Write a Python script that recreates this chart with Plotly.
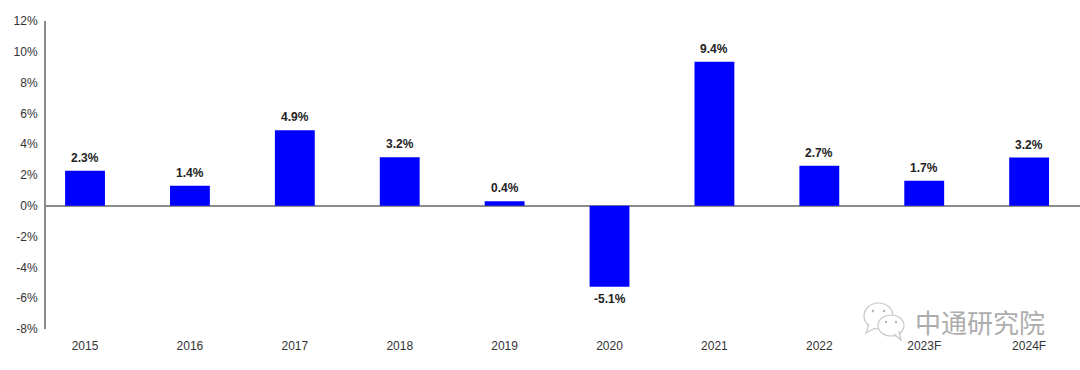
import plotly.graph_objects as go

years = ["2015", "2016", "2017", "2018", "2019", "2020", "2021", "2022", "2023F", "2024F"]
bar_values = [2.27, 1.3, 4.9, 3.15, 0.3, -5.25, 9.35, 2.6, 1.63, 3.13]
bar_labels = ["2.3%", "1.4%", "4.9%", "3.2%", "0.4%", "-5.1%", "9.4%", "2.7%", "1.7%", "3.2%"]
y_ticks = [-8, -6, -4, -2, 0, 2, 4, 6, 8, 10, 12]
y_tick_labels = [f"{v}%" for v in y_ticks]
watermark = "中通研究院"

FONT = "Liberation Sans, Arial, sans-serif"
GREY = "#8c8c8c"

fig = go.Figure(go.Bar(
    x=years, y=bar_values, width=0.38,
    marker=dict(color="#0000FF", line=dict(width=0)),
    cliponaxis=False, hoverinfo="skip",
))

for i, (val, lab) in enumerate(zip(bar_values, bar_labels)):
    fig.add_annotation(
        x=i, y=val, text=lab, showarrow=False,
        yanchor="middle", yshift=13 if val >= 0 else -12,
        font=dict(family=FONT, size=12, color="#222222", weight="bold"),
    )

fig.update_layout(
    width=1080, height=370, autosize=False,
    margin=dict(l=46, r=0, t=21, b=41),
    paper_bgcolor="white", plot_bgcolor="white", showlegend=False,
    xaxis=dict(
        type="category", categoryorder="array", categoryarray=years,
        range=[-0.372, 9.485], showgrid=False, zeroline=False, showline=False,
        ticks="", ticklabelstandoff=8,
        tickfont=dict(family=FONT, size=12, color="#333333"),
    ),
    yaxis=dict(
        range=[-8, 12], tickvals=y_ticks, ticktext=y_tick_labels,
        showgrid=False, showline=True, linecolor=GREY, linewidth=2,
        zeroline=True, zerolinecolor=GREY, zerolinewidth=2,
        ticks="", ticklabelstandoff=4,
        tickfont=dict(family=FONT, size=12, color="#333333"),
    ),
)

# Watermark (decorative, in paper space)
def px(x): return (x - 46) / 1034
def py(y): return (370 - y - 41) / 308

fig.add_annotation(
    text=watermark, xref="paper", yref="paper", xanchor="left", yanchor="middle",
    x=px(913), y=py(321), showarrow=False,
    font=dict(family="Noto Sans CJK SC", size=26, color="#adadad"),
)

ICON = "#c8c8c8"
def path(points):
    return "M " + " L ".join(f"{px(x)} {py(y)}" for x, y in points)

# bubbles with tails
for (x0, y0, x1, y1, tail) in [
    (864, 303, 893, 329, [(869, 324), (866, 333), (875, 328)]),
    (878, 315, 904, 336, [(894, 334), (901, 340), (899, 331)]),
]:
    fig.add_shape(type="circle", xref="paper", yref="paper",
                  x0=px(x0), x1=px(x1), y0=py(y1), y1=py(y0),
                  fillcolor="white", line=dict(color=ICON, width=1.2))
    fig.add_shape(type="path", xref="paper", yref="paper", path=path(tail),
                  fillcolor="white", line=dict(color=ICON, width=1.2))
# eyes
for (cx, cy) in [(873, 311), (884, 311), (886, 322), (896, 322)]:
    fig.add_shape(type="circle", xref="paper", yref="paper",
                  x0=px(cx - 1.2), x1=px(cx + 1.2), y0=py(cy + 1.2), y1=py(cy - 1.2),
                  fillcolor="#b5b5b5", line=dict(width=0))

fig.write_html("out.html", config={"displayModeBar": False},
               post_script="document.body.style.margin='0';")
